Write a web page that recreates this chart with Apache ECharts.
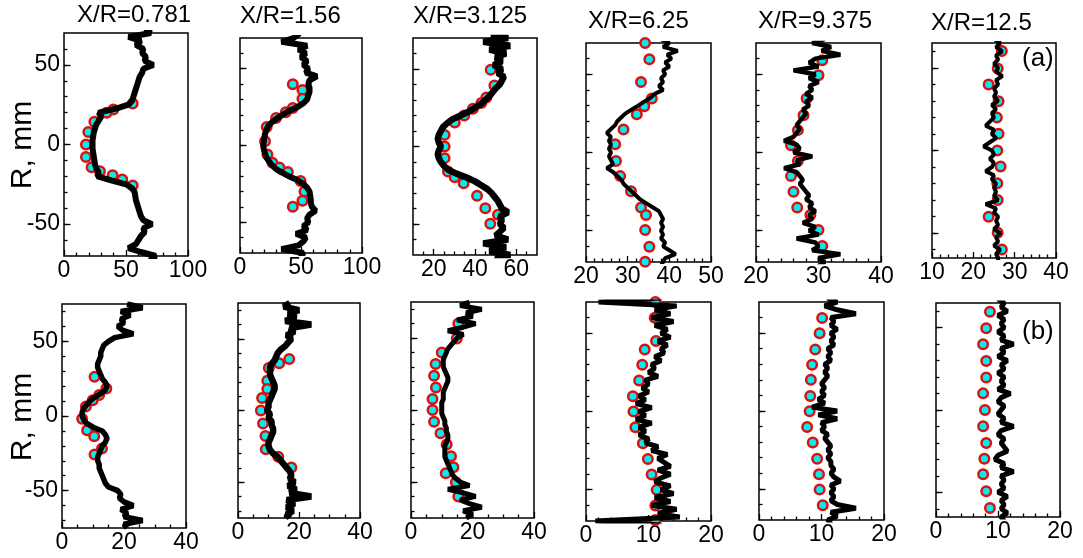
<!DOCTYPE html>
<html>
<head>
<meta charset="utf-8">
<script src="https://cdn.jsdelivr.net/npm/echarts@6/dist/echarts.min.js"></script>
<style>
html, body { margin: 0; padding: 0; background: #fff; }
#main { width: 1083px; height: 558px; }
</style>
</head>
<body>
<div id="main"></div>
<script>
// radial positions (mm) of the measured profiles, top to bottom
var rLine = [75, 72.5, 70, 67.5, 65, 62.5, 60, 57.5, 55, 52.5,
    50, 47.5, 45, 42.5, 40, 37.5, 35, 32.5, 30, 27.5,
    25, 22.5, 20, 17.5, 15, 12.5, 10, 7.5, 5, 2.5,
    0, -2.5, -5, -7.5, -10, -12.5, -15, -17.5, -20, -22.5,
    -25, -27.5, -30, -32.5, -35, -37.5, -40, -42.5, -45, -47.5,
    -50, -52.5, -55, -57.5, -60, -62.5, -65, -67.5, -70, -72.5,
    -75];

// row (a) measured profiles
var lineA1 = [68, 66, 70, 52, 62, 58, 64, 63, 66, 65,
    72, 64, 63, 61, 60, 59, 58, 57, 56, 55,
    52, 42, 28, 30, 28, 26, 25, 24, 23.5, 23,
    23, 23, 23.5, 24, 24.5, 25, 26, 28, 27, 38,
    50, 55, 57, 57.5, 58, 59, 60, 61, 62, 64,
    71, 64, 65, 62, 60, 58, 52, 62, 74, 70,
    68];
var lineA2 = [50, 48, 44, 34, 55, 48, 54, 50, 55, 52,
    56, 54, 63, 57, 56, 57, 57, 56, 55, 52,
    47, 40, 35, 30, 26, 23, 21.5, 20.5, 20, 19.5,
    19, 19.5, 20.5, 21.5, 23.5, 26, 29, 34, 40, 47,
    52, 55, 57, 57.5, 58, 58, 59, 62, 57, 55,
    56, 52, 55, 46, 54, 52, 48, 34, 52, 50,
    50];
var lineA3 = [52, 48, 56, 44, 57, 47, 55, 50, 53, 49,
    53, 51, 54, 53, 52, 50, 48.5, 47, 45, 43,
    40, 37, 33, 29, 26.5, 24.5, 23.5, 22.5, 22, 22.5,
    23.5, 22.5, 22, 22.5, 23.5, 25, 27, 31, 36, 40,
    43, 46, 48, 49.5, 51, 52, 53, 56, 52, 53,
    52, 54, 52, 50, 56, 44, 55, 47, 57, 50,
    52];
var lineA4 = [39, 38, 40, 38.5, 42, 39.5, 40.5, 39, 40, 38.5,
    39, 38, 38.5, 37.5, 38.5, 36.5, 35.5, 34, 32.5, 31,
    29.5, 28.5, 27.5, 27, 26, 25, 26, 25.5, 26, 25.5,
    26, 25.5, 26, 26.5, 25, 26.5, 27.5, 28.5, 29, 30,
    31, 32, 33, 34.5, 36, 37.5, 38, 38.5, 38, 38.5,
    38, 38.5, 38, 39, 38.5, 40, 41.5, 39, 38.5, 38,
    38];
var lineA5 = [30, 31, 29, 32, 30.5, 33.5, 29.5, 28.5, 30, 26,
    29.5, 28.5, 30, 28.5, 29, 28, 29, 28, 28.5, 27.5,
    28, 27.5, 27, 26.5, 27, 26.5, 26, 24.5, 26.5, 27,
    26, 29, 26.5, 27, 24.5, 26.5, 27, 27.5, 27, 27.5,
    28, 28.5, 28, 29, 28.5, 29.5, 28.5, 29, 27.5, 29.5,
    28.5, 30, 26.5, 29.5, 30, 29, 33.5, 30, 31, 30,
    30];
var lineA6 = [26, 26, 26.5, 25, 26.5, 25.5, 27, 25.5, 26, 25,
    26, 25.5, 27, 25.5, 26, 25, 25.5, 25, 26, 24.5,
    25.5, 24.5, 25, 24, 23, 25, 24.5, 25.5, 24, 22.5,
    24.5, 25, 24, 25, 24.5, 23, 25, 24.5, 25.5, 25,
    25.5, 25, 26, 23, 25.5, 25, 26, 25.5, 26, 25,
    26.5, 25.5, 26, 25, 26.5, 25.5, 26, 26, 26, 26,
    26];

// row (b) measured profiles
var lineB1 = [21, 26, 19, 22, 19, 20, 18, 19.5, 23, 17,
    15, 13.5, 13, 12.5, 12.5, 12, 11.5, 11.5, 12, 12.5,
    13, 14, 14.5, 14, 12.5, 10.5, 9, 8, 7, 6.5,
    6.5, 7, 8, 10, 13, 14, 14.5, 14, 13, 12.5,
    12, 11.5, 11.5, 12, 12, 12.5, 13, 13.5, 14, 15,
    18, 19, 18.5, 20, 23, 19, 21, 20, 26, 20,
    21];
var lineB2 = [17, 15, 20, 16.5, 19, 15.5, 24, 17, 18.5, 16,
    17.5, 16.5, 15.5, 14, 13, 12.5, 12, 11, 10.5, 10.5,
    10.5, 11, 11.5, 12, 12, 11.5, 11, 10.5, 10, 10,
    9.5, 10.5, 10, 11, 11, 11.5, 11.5, 11, 10.5, 10,
    10, 10.5, 11.5, 13, 14, 15, 16, 17, 17.5, 17,
    18.5, 16.5, 19, 17, 24, 16, 18.5, 16, 18, 16,
    17];
var lineB3 = [19, 16, 23, 18, 20, 15, 21, 17, 12, 17,
    15, 14, 13, 12, 11.5, 11, 10.5, 10.5, 10.5, 11,
    11.5, 12, 12, 11.5, 11, 10.5, 10.5, 10.5, 10, 10,
    10, 10, 10.5, 11, 11, 11.5, 11.5, 12, 12, 11.5,
    11, 11, 11, 11, 11.5, 12, 12.5, 13, 13.5, 14.5,
    16, 19, 12, 17, 21, 16, 19, 23, 17, 20,
    18];
var lineB4 = [12, 12, 2, 14.5, 11, 13.5, 10.5, 14, 11, 13,
    12, 13.5, 11.5, 13, 12, 12.5, 11, 12, 10.5, 11,
    10, 11.5, 9.5, 10, 9, 10, 8.5, 9.5, 8, 10.5,
    8.5, 9.5, 8, 10.5, 8.5, 9.5, 8.5, 10, 9.5, 11.5,
    10.5, 13, 11.5, 12.5, 13.5, 11.5, 13.5, 12, 11, 13.5,
    12, 14, 11, 13.5, 10.5, 14.5, 11.5, 15, 1.5, 12,
    12];
var lineB5 = [11.5, 11, 12.5, 10.5, 12.5, 15.5, 11.5, 12, 11.5, 12.5,
    11.5, 12, 11.5, 12, 11, 11.5, 11, 11.5, 10.5, 11,
    10.5, 11, 10.5, 10, 10.5, 10, 10.5, 9.5, 10.5, 8.5,
    12.5, 9.5, 12.5, 10, 10.5, 10, 11, 10.5, 11, 11.5,
    11, 11.5, 11, 11.5, 11.5, 12, 11.5, 12, 13, 11.5,
    12, 11.5, 12, 11.5, 12.5, 15.5, 11.5, 12.5, 11, 11.5,
    11.5];
var lineB6 = [10.5, 10.5, 11, 10, 11, 10.5, 11.5, 10, 11, 10.5,
    11, 10, 11, 10.5, 12.5, 10.5, 11, 10, 11.5, 10.5,
    11, 10, 11, 10.5, 11, 10, 12, 10.5, 10, 11,
    10.5, 10, 11, 10.5, 12.5, 10.5, 10, 11, 10.5, 11,
    11.5, 10, 9.5, 11, 10.5, 12.5, 10.5, 11, 10.5, 11,
    10, 11.5, 10.5, 11, 10.5, 11.5, 10.5, 11, 10.5, 10.5,
    10.5];

// computed points [value, R]
var ptsA1 = [[55.4, 25.8], [39.8, 22], [34.4, 20], [24.5, 14.3], [19.6, 7.8], [17.7, 0], [17.7, -7.8], [22.3, -14.3], [29, -16.8], [39.2, -19.3], [47, -22], [55.4, -25.8]];
var ptsA2 = [[43.3, 39.9], [51.2, 36.2], [51.2, 30.4], [43.3, 24.4], [37.5, 21.6], [29.6, 17.9], [21.9, 12.1], [20.5, 2.8], [22.5, -5.8], [26.6, -11.2], [32.3, -14.4], [39.2, -17.2], [49.6, -23.1], [52.9, -30], [51.2, -36], [43.3, -39.9]];
var ptsA3 = [[47.6, 49.5], [49.4, 39.4], [45.5, 31.6], [43.1, 28], [39, 24.3], [34.8, 20], [30.2, 15.5], [25.3, 7.5], [25.3, 0], [25.3, -7.5], [26.9, -16.1], [30.2, -19.8], [34.5, -23.7], [41, -31.8], [45, -39.8], [51.1, -44], [47.4, -49.9]];
var ptsA4 = [[34.2, 70], [35.2, 59.6], [33.2, 45.1], [35.8, 34.5], [34, 29.6], [32.2, 24.5], [29, 14.7], [27, 5.3], [27.2, -5.5], [28.2, -15.1], [30.8, -24.7], [33.2, -35.1], [34.4, -40], [34.2, -49.6], [35.2, -60.2], [34.2, -69.8]];
var ptsA5 = [[30.6, 58.9], [30, 49.4], [28.1, 34.5], [27.6, 23.8], [26.7, 14.3], [25.6, 4.7], [26.7, -5.5], [25.6, -15.1], [26, -25.1], [26.6, -35.1], [28.7, -40], [30, -49.6], [30.6, -59.8]];
var ptsA6 = [[26.9, 60.1], [25.9, 49.6], [23.7, 39.9], [26.1, 29.8], [25.7, 20], [26.1, 10.1], [25.8, 0], [26.6, -9.7], [25.8, -19.8], [25.9, -30], [23.7, -40.1], [25.9, -49.8], [26.9, -59.9]];
var ptsB1 = [[10.5, 26.2], [14.3, 18.4], [12, 14.1], [9.9, 10.5], [7.7, 6.3], [6.5, -1.8], [8.1, -9.6], [10.4, -13.5], [12.9, -21.7], [10.5, -25.8]];
var ptsB2 = [[16.8, 36], [13.5, 33], [10.1, 29.6], [9.6, 20.8], [9.6, 15], [7.9, 8.8], [7.5, 0], [8.2, -9], [9, -17.8], [9.1, -27], [13.2, -32.3], [17.5, -39.7]];
var ptsB3 = [[15.4, 60], [14.9, 49.7], [10, 40], [8, 31.9], [7.5, 23.8], [8.1, 15.7], [7, 7.6], [7, 0], [7.5, -8.1], [9.6, -16.2], [11.6, -24], [13, -32.1], [13.8, -39.7], [11.3, -43.9], [14.6, -50.1], [15.4, -60]];
var ptsB4 = [[11.1, 70], [11, 60], [11.2, 45], [9.4, 39.7], [9, 29.9], [8.5, 19.8], [7.5, 9.8], [7.6, 0], [7.9, -10], [9.1, -20.3], [9.9, -30.3], [10.5, -40.3], [11.3, -50.1], [11.1, -60.1], [11.1, -69.3]];
var ptsB5 = [[10.1, 59.8], [9.7, 50], [9, 39.5], [8.5, 29.7], [8.3, 20.1], [8.2, 9.6], [8.1, -0.2], [7.7, -10.3], [8.6, -20.3], [9.3, -30.6], [9.6, -40.6], [9.7, -50.4], [10.2, -60.5]];
var ptsB6 = [[8.7, 59.7], [8.1, 49.6], [7.6, 39.9], [8.1, 29.8], [8.1, 19.8], [7.6, 10.1], [7.9, 0], [7.6, -9.9], [8.1, -20], [7.8, -29.6], [7.6, -39.1], [8.1, -49.4], [8.7, -59.5]];

// tick labels / tick positions
var titlesA = ['X/R=0.781', 'X/R=1.56', 'X/R=3.125', 'X/R=6.25', 'X/R=9.375', 'X/R=12.5'];
var yLabels = [-50, 0, 50];
var yTicks70 = [-60, -50, -40, -30, -20, -10, 0, 10, 20, 30, 40, 50, 60];
var yTicks75 = [-70, -60, -50, -40, -30, -20, -10, 0, 10, 20, 30, 40, 50, 60, 70];
var xLab100 = [0, 50, 100];
var xMin100 = [10, 20, 30, 40, 60, 70, 80, 90];
var xLab70 = [20, 40, 60];
var xMin70 = [15, 25, 30, 35, 45, 50, 55, 65];
var xLab50 = [20, 30, 40, 50];
var xMin50 = [22, 24, 26, 28, 32, 34, 36, 38, 42, 44, 46, 48];
var xLab40a = [20, 30, 40];
var xMin40a = [22, 24, 26, 28, 32, 34, 36, 38];
var xLab40b = [10, 20, 30, 40];
var xMin40b = [12, 14, 16, 18, 22, 24, 26, 28, 32, 34, 36, 38];
var xLab40 = [0, 20, 40];
var xMin40 = [5, 10, 15, 25, 30, 35];
var xLab20 = [0, 10, 20];
var xMin20 = [2, 4, 6, 8, 12, 14, 16, 18];

// panel layout: box = [left, top, width, height]
var panels = [
    {box: [64, 33, 124, 223], x: [0, 100], y: [-70, 70], line: lineA1, pts: ptsA1, lw: 6, xLab: xLab100, xMin: xMin100, yT: yTicks70, yLab: true},
    {box: [240, 38, 122, 215], x: [0, 100], y: [-70, 70], line: lineA2, pts: ptsA2, lw: 6, xLab: xLab100, xMin: xMin100, yT: yTicks70},
    {box: [413, 38, 124, 217], x: [10, 70], y: [-70, 70], line: lineA3, pts: ptsA3, lw: 6.5, xLab: xLab70, xMin: xMin70, yT: yTicks70},
    {box: [586, 43, 125, 219], x: [20, 50], y: [-70, 70], line: lineA4, pts: ptsA4, lw: 4, xLab: xLab50, xMin: xMin50, yT: yTicks70},
    {box: [756, 43, 125, 219], x: [20, 40], y: [-70, 70], line: lineA5, pts: ptsA5, lw: 4.5, xLab: xLab40a, xMin: xMin40a, yT: yTicks70},
    {box: [932, 43, 124, 215], x: [10, 40], y: [-65, 65], line: lineA6, pts: ptsA6, lw: 4, xLab: xLab40b, xMin: xMin40b, yT: yTicks70},
    {box: [62, 304, 124, 224], x: [0, 40], y: [-75, 75], line: lineB1, pts: ptsB1, lw: 5.5, xLab: xLab40, xMin: xMin40, yT: yTicks75, yLab: true},
    {box: [238, 303, 122, 215], x: [0, 40], y: [-75, 75], line: lineB2, pts: ptsB2, lw: 6.5, xLab: xLab40, xMin: xMin40, yT: yTicks75},
    {box: [411, 302, 123, 216], x: [0, 40], y: [-75, 75], line: lineB3, pts: ptsB3, lw: 5, xLab: xLab40, xMin: xMin40, yT: yTicks75},
    {box: [586, 302, 125, 219], x: [0, 20], y: [-70, 70], line: lineB4, pts: ptsB4, lw: 5, xLab: xLab20, xMin: xMin20, yT: yTicks70},
    {box: [759, 302, 125, 218], x: [0, 20], y: [-70, 70], line: lineB5, pts: ptsB5, lw: 5, xLab: xLab20, xMin: xMin20, yT: yTicks70},
    {box: [936, 303, 124, 214], x: [0, 20], y: [-65, 65], line: lineB6, pts: ptsB6, lw: 5, xLab: xLab20, xMin: xMin20, yT: yTicks70}
];
var titlePos = [[77, 15], [240, 16.5], [413, 16.5], [588, 21], [758, 21.5], [931, 23]];

var FONT = 'Liberation Sans, Arial, sans-serif';
var tickLine = {color: '#000', width: 1.3};
var noLine = {show: false, onZero: false};

var grids = [], xAxes = [], yAxes = [], series = [];
panels.forEach(function (p, i) {
    grids.push({
        left: p.box[0], top: p.box[1], width: p.box[2], height: p.box[3],
        show: true, borderColor: '#000', borderWidth: 1.5,
        containLabel: false, outerBoundsMode: 'none'
    });
    // main axes (labels + long ticks)
    xAxes.push({
        gridIndex: i, type: 'value', position: 'bottom', min: p.x[0], max: p.x[1],
        axisLine: noLine, splitLine: {show: false},
        axisTick: {inside: true, length: 6, customValues: p.xLab, lineStyle: tickLine},
        axisLabel: {customValues: p.xLab, fontSize: 23, fontFamily: FONT, color: '#000', margin: 3}
    });
    // short ticks
    xAxes.push({
        gridIndex: i, type: 'value', position: 'bottom', min: p.x[0], max: p.x[1],
        axisLine: noLine, splitLine: {show: false},
        axisTick: {inside: true, length: 3.5, customValues: p.xMin, lineStyle: tickLine},
        axisLabel: {show: false}
    });
    yAxes.push({
        gridIndex: i, type: 'value', position: 'left', min: p.y[0], max: p.y[1],
        axisLine: noLine, splitLine: {show: false},
        axisTick: {inside: true, length: 6.5, customValues: yLabels, lineStyle: tickLine},
        axisLabel: {show: !!p.yLab, customValues: yLabels, fontSize: 23, fontFamily: FONT, color: '#000', margin: 4}
    });
    yAxes.push({
        gridIndex: i, type: 'value', position: 'left', min: p.y[0], max: p.y[1],
        axisLine: noLine, splitLine: {show: false},
        axisTick: {inside: true, length: 3.5, customValues: p.yT, lineStyle: tickLine},
        axisLabel: {show: false}
    });

    series.push({
        type: 'scatter', xAxisIndex: 2 * i, yAxisIndex: 2 * i,
        data: p.pts, symbol: 'circle', symbolSize: 9.5, z: 2,
        itemStyle: {color: '#00eef2', borderColor: '#dd1010', borderWidth: 2.5, opacity: 1}
    });
    series.push({
        type: 'line', xAxisIndex: 2 * i, yAxisIndex: 2 * i, z: 3,
        data: rLine.map(function (r, k) { return [p.line[k], r]; }),
        showSymbol: false, symbol: 'none', silent: true,
        lineStyle: {color: '#000', width: p.lw}
    });
});

var graphics = titlesA.map(function (t, i) {
    return {
        type: 'text', x: titlePos[i][0], y: titlePos[i][1],
        style: {text: t, fontSize: 24, fontFamily: FONT, fill: '#000', align: 'left', verticalAlign: 'middle', textAlign: 'left', textVerticalAlign: 'middle'}
    };
});
[[23, 145], [23, 417]].forEach(function (pos) {
    graphics.push({
        type: 'text', x: pos[0], y: pos[1], rotation: Math.PI / 2,
        style: {text: 'R, mm', fontSize: 30, fontFamily: FONT, fill: '#000', align: 'center', verticalAlign: 'middle', textAlign: 'center', textVerticalAlign: 'middle'}
    });
});
graphics.push({
    type: 'text', x: 1022, y: 59,
    style: {text: '(a)', fontSize: 26, fontFamily: FONT, fill: '#000', align: 'left', verticalAlign: 'middle', textAlign: 'left', textVerticalAlign: 'middle'}
});
graphics.push({
    type: 'text', x: 1022, y: 332,
    style: {text: '(b)', fontSize: 26, fontFamily: FONT, fill: '#000', align: 'left', verticalAlign: 'middle', textAlign: 'left', textVerticalAlign: 'middle'}
});

var chart = echarts.init(document.getElementById('main'), null, {renderer: 'canvas'});
chart.setOption({
    backgroundColor: '#fff',
    animation: false,
    grid: grids,
    xAxis: xAxes,
    yAxis: yAxes,
    series: series,
    graphic: graphics
});
</script>
</body>
</html>
